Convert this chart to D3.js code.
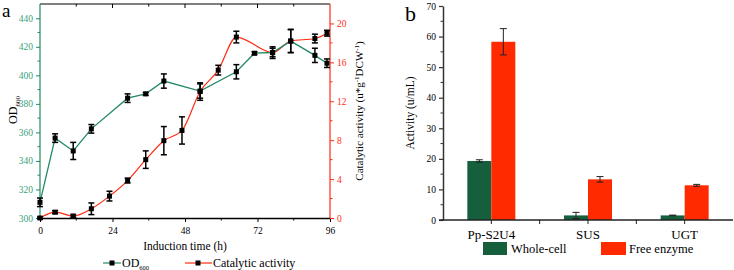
<!DOCTYPE html>
<html><head><meta charset="utf-8">
<script src="https://cdn.jsdelivr.net/npm/d3@7"></script>
<style>body{margin:0;background:#fff}svg{display:block;font-family:"Liberation Serif","DejaVu Serif",serif}</style>
</head><body><svg id="c" width="734" height="270"></svg>
<script>
// ---- Panel a data ----
const odTime = [0,5,11,17,29,35,41,53,65,71,77,83,91,95];
const odValue = [311,356,347,362.5,384,387,396,389,402.5,415.5,416,424,414,408.5];
const odErr = [3,3,6,3,3,1,5,5,5,1,3,8,5,3];
const caTime = [0,5,11,17,23,29,35,41,47,53,59,65,77,83,91,95];
const caValue = [0,0.6,0.2,0.95,2.25,3.85,6.0,7.95,9.0,13.0,15.2,18.6,17.0,18.2,18.45,19.0];
const caErr = [0.1,0.15,0.15,0.6,0.5,0.25,0.9,1.45,1.4,0.9,0.5,0.6,0.6,1.2,0.45,0.3];
const xTicksA = [0,24,48,72,96];
const odTicks = [300,320,340,360,380,400,420,440];
const caTicks = [0,4,8,12,16,20];
// ---- Panel b data ----
const categories = ["Pp-S2U4","SUS","UGT"];
const wholeCell = [19.3,1.5,1.5];
const wholeCellErr = [0.4,1.0,0.1];
const freeEnzyme = [58.3,13.3,11.35];
const freeEnzymeErr = [4.3,0.9,0.3];
const bTicks = [0,10,20,30,40,50,60,70];

const FONT = "Liberation Serif";
const GREEN_A = "#238a62", GREEN_T = "#3a9f7b", RED = "#ff2a12", GREEN_B = "#155f3d", RED_B = "#ff2a00";
const svg = d3.select("#c");

// ================= Panel a =================
const xa = d3.scaleLinear().domain([0,96]).range([40,330]);
const yod = d3.scaleLinear().domain([300,450]).range([218,4]);
const yca = d3.scaleLinear().domain([0,22]).range([218,4]);
const ga = svg.append("g");

ga.append("line").attr("x1",40).attr("x2",330).attr("y1",4).attr("y2",4).attr("stroke","#000").attr("stroke-width",1.2);
d3.range(12,96,12).forEach(t=>{
  ga.append("line").attr("x1",xa(t)).attr("x2",xa(t)).attr("y1",4).attr("y2",t%24===0?8:6.5).attr("stroke","#000").attr("stroke-width",1);
});
const gx = ga.append("g").attr("transform","translate(0,218)").call(d3.axisBottom(xa).tickValues(xTicksA).tickSize(4).tickSizeOuter(0));
gx.attr("font-family",FONT);
gx.select(".domain").attr("stroke","#000").attr("stroke-width",1.3);
gx.selectAll(".tick text").attr("font-size",9.5).attr("dy","0.9em");
ga.append("g").attr("transform","translate(0,218)").selectAll("line").data(d3.range(12,96,24)).join("line")
  .attr("x1",d=>xa(d)).attr("x2",d=>xa(d)).attr("y1",0).attr("y2",2.5).attr("stroke","#000");
const gl = ga.append("g").attr("transform","translate(40,0)").call(d3.axisLeft(yod).tickValues(odTicks).tickSize(4).tickSizeOuter(0));
gl.attr("font-family",FONT);
gl.select(".domain").attr("stroke",GREEN_A).attr("stroke-width",1.2).attr("d","M0,4V218");
gl.selectAll(".tick line").attr("stroke",GREEN_A);
gl.selectAll(".tick text").attr("fill",GREEN_T).attr("font-size",9.5);
gl.append("g").selectAll("line").data(d3.range(310,450,20)).join("line")
  .attr("x1",-2.5).attr("x2",0).attr("y1",d=>yod(d)).attr("y2",d=>yod(d)).attr("stroke",GREEN_A);
const gr = ga.append("g").attr("transform","translate(330,0)").call(d3.axisRight(yca).tickValues(caTicks).tickSize(4).tickSizeOuter(0));
gr.attr("font-family",FONT);
gr.select(".domain").attr("stroke",RED).attr("stroke-width",1.2).attr("d","M0,4V218");
gr.selectAll(".tick line").attr("stroke",RED);
gr.selectAll(".tick text").attr("fill",RED).attr("font-size",9.5);
gr.append("g").selectAll("line").data(d3.range(2,22,4)).join("line")
  .attr("x1",0).attr("x2",2.5).attr("y1",d=>yca(d)).attr("y2",d=>yca(d)).attr("stroke",RED);

const odData = odTime.map((t,i)=>({t,v:odValue[i],e:odErr[i]}));
const caData = caTime.map((t,i)=>({t,v:caValue[i],e:caErr[i]}));
ga.append("path").datum(caData).attr("fill","none").attr("stroke",RED).attr("stroke-width",1.2)
  .attr("d",d3.line().x(d=>xa(d.t)).y(d=>yca(d.v)).curve(d3.curveMonotoneX));
ga.append("path").datum(odData).attr("fill","none").attr("stroke",GREEN_A).attr("stroke-width",1.3)
  .attr("d",d3.line().x(d=>xa(d.t)).y(d=>yod(d.v)));
function errBars(g,data,y){
  const s = g.append("g").attr("stroke","#000").attr("stroke-width",1.5);
  data.forEach(d=>{
    const x=xa(d.t), y1=y(d.v-d.e), y2=y(d.v+d.e);
    s.append("line").attr("x1",x).attr("x2",x).attr("y1",y1).attr("y2",y2);
    s.append("line").attr("x1",x-3).attr("x2",x+3).attr("y1",y1).attr("y2",y1);
    s.append("line").attr("x1",x-3).attr("x2",x+3).attr("y1",y2).attr("y2",y2);
  });
  g.append("g").selectAll("rect").data(data).join("rect")
    .attr("x",d=>xa(d.t)-2.5).attr("y",d=>y(d.v)-2.5).attr("width",5).attr("height",5).attr("fill","#000");
}
errBars(ga,caData,yca);
errBars(ga,odData,yod);

ga.append("text").attr("x",2).attr("y",17).attr("font-size",19).text("a");
ga.append("text").attr("x",185).attr("y",250).attr("text-anchor","middle").attr("font-size",11.5).text("Induction time (h)");
const odl = ga.append("text").attr("transform","translate(17,110) rotate(-90)").attr("text-anchor","middle").attr("font-size",12);
odl.append("tspan").text("OD");
odl.append("tspan").attr("font-size",7).attr("dy",3).text("600");
const cal = ga.append("text").attr("transform","translate(363,111) rotate(-90)").attr("text-anchor","middle").attr("font-size",11);
cal.append("tspan").text("Catalytic activity (u*g");
cal.append("tspan").attr("font-size",7).attr("dy",-4).text("-1");
cal.append("tspan").attr("dy",4).text("DCW");
cal.append("tspan").attr("font-size",7).attr("dy",-4).text("-1");
cal.append("tspan").attr("dy",4).text(")");
const lg = ga.append("g");
lg.append("line").attr("x1",103).attr("x2",121).attr("y1",263).attr("y2",263).attr("stroke",GREEN_A).attr("stroke-width",1.2);
lg.append("rect").attr("x",109.5).attr("y",260.5).attr("width",5).attr("height",5);
const lt = lg.append("text").attr("x",122).attr("y",267).attr("font-size",12);
lt.append("tspan").text("OD"); lt.append("tspan").attr("font-size",6.5).attr("dy",3).text("600");
lg.append("line").attr("x1",185).attr("x2",212).attr("y1",263).attr("y2",263).attr("stroke",RED).attr("stroke-width",1.2);
lg.append("rect").attr("x",195.5).attr("y",260.5).attr("width",5).attr("height",5);
lg.append("text").attr("x",213).attr("y",267).attr("font-size",12).text("Catalytic activity");

// ================= Panel b =================
const xb = d3.scaleBand().domain(categories).range([443,733]);
const yb = d3.scaleLinear().domain([0,70]).range([220,6]);
const gb = svg.append("g");
const bw = 24;
const bars = categories.map((c,i)=>({c,w:wholeCell[i],we:wholeCellErr[i],f:freeEnzyme[i],fe:freeEnzymeErr[i]}));
gb.selectAll("rect.w").data(bars).join("rect").attr("x",d=>xb(d.c)+xb.bandwidth()/2-bw).attr("y",d=>yb(d.w))
  .attr("width",bw).attr("height",d=>220-yb(d.w)).attr("fill",GREEN_B);
gb.selectAll("rect.f").data(bars).join("rect").attr("x",d=>xb(d.c)+xb.bandwidth()/2).attr("y",d=>yb(d.f))
  .attr("width",bw).attr("height",d=>220-yb(d.f)).attr("fill",RED_B);
const eb = gb.append("g").attr("stroke","#222").attr("stroke-width",1);
bars.forEach(d=>{
  [[xb(d.c)+xb.bandwidth()/2-bw/2,d.w,d.we],[xb(d.c)+xb.bandwidth()/2+bw/2,d.f,d.fe]].forEach(([x,v,e])=>{
    const y1=yb(Math.max(0,v-e)), y2=yb(v+e);
    eb.append("line").attr("x1",x).attr("x2",x).attr("y1",y1).attr("y2",y2);
    eb.append("line").attr("x1",x-3.5).attr("x2",x+3.5).attr("y1",y2).attr("y2",y2);
    eb.append("line").attr("x1",x-3.5).attr("x2",x+3.5).attr("y1",y1).attr("y2",y1);
  });
});
const gbl = gb.append("g").attr("transform","translate(443,0)").call(d3.axisLeft(yb).tickValues(bTicks).tickSize(4).tickSizeOuter(0));
gbl.attr("font-family",FONT);
gbl.select(".domain").attr("stroke","#333").attr("stroke-width",1.5);
gbl.selectAll(".tick line").attr("stroke","#333").attr("stroke-width",1.2);
gbl.selectAll(".tick text").attr("font-size",9.5);
gbl.append("g").selectAll("line").data(d3.range(5,70,10)).join("line")
  .attr("x1",-2.5).attr("x2",0).attr("y1",d=>yb(d)).attr("y2",d=>yb(d)).attr("stroke","#333");
const gbx = gb.append("g").attr("transform","translate(0,220)").call(d3.axisBottom(xb).tickSize(4).tickSizeOuter(0));
gbx.attr("font-family",FONT);
gbx.select(".domain").attr("stroke","#222").attr("stroke-width",1.5).attr("d","M439,0H733");
gbx.selectAll(".tick text").attr("font-size",13).attr("dy","0.95em");
gbx.selectAll(".tick line").attr("stroke","#222");
gbx.append("g").selectAll("line").data(categories.slice(1)).join("line")
  .attr("x1",d=>xb(d)).attr("x2",d=>xb(d)).attr("y1",0).attr("y2",4).attr("stroke","#222");
gb.append("text").attr("x",405).attr("y",21).attr("font-size",22).text("b");
gb.append("text").attr("transform","translate(414,113) rotate(-90)").attr("text-anchor","middle").attr("font-size",11.5).text("Activity (u/mL)");
gb.append("rect").attr("x",483).attr("y",242).attr("width",24).attr("height",13).attr("fill",GREEN_B);
gb.append("text").attr("x",511).attr("y",253).attr("font-size",12.5).text("Whole-cell");
gb.append("rect").attr("x",601).attr("y",242).attr("width",25).attr("height",13).attr("fill",RED_B);
gb.append("text").attr("x",629).attr("y",253).attr("font-size",12.5).text("Free enzyme");
</script></body></html>
